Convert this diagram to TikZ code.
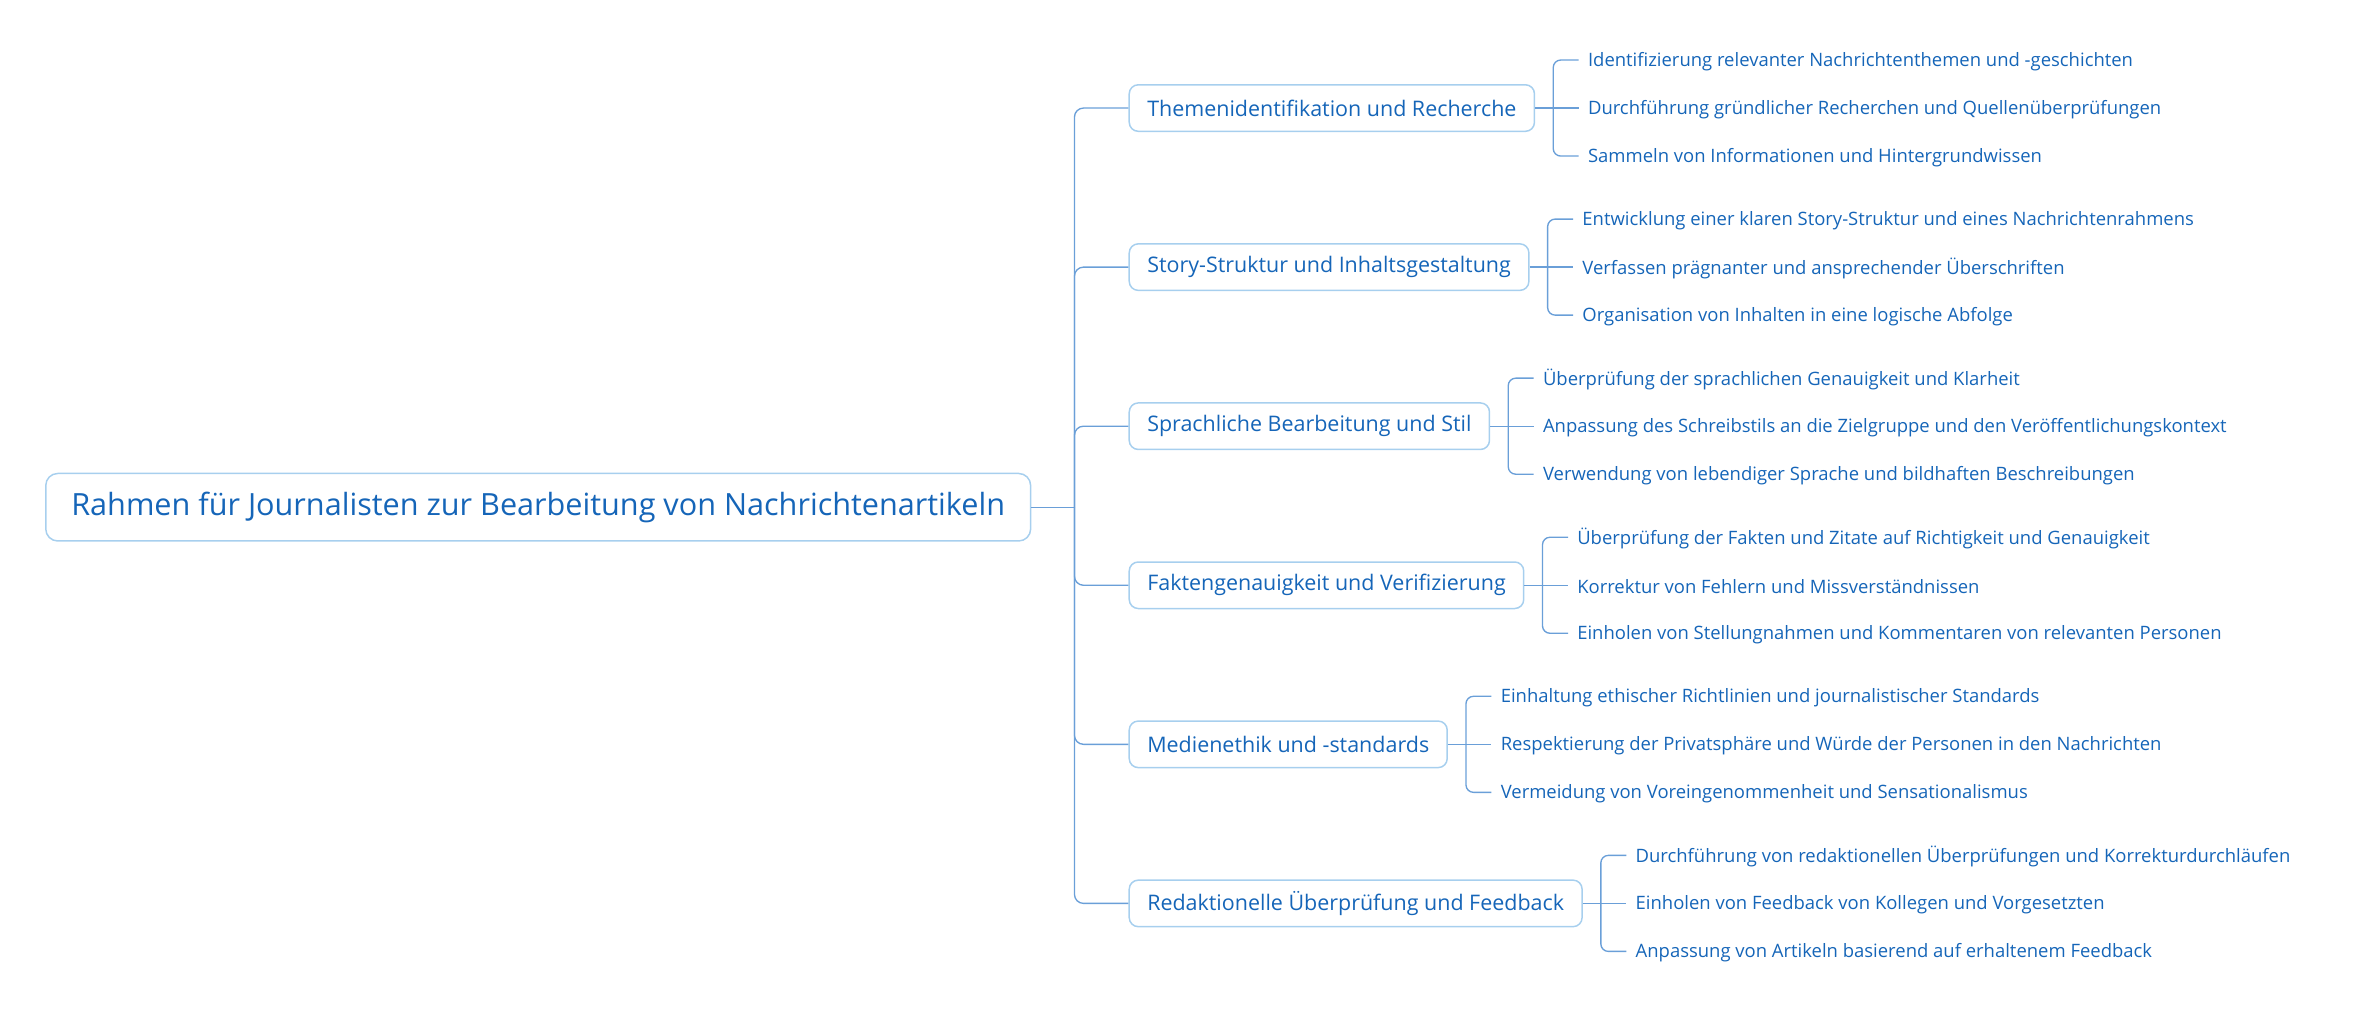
\documentclass[tikz,border=0pt]{standalone}
\usepackage{fontspec}
\usetikzlibrary{calc}
\setmainfont{Open Sans}
\definecolor{tx}{HTML}{1565B8}
\definecolor{ln}{HTML}{6A9FD8}
\definecolor{bx}{HTML}{A7CFEE}
\begin{document}
\begin{tikzpicture}[x=1pt,y=-1pt,
 root/.style={draw=bx,line width=1pt,rounded corners=8pt,text=tx,font=\fontsize{20.4}{22}\selectfont,inner xsep=17pt,inner ysep=0pt,minimum height=45pt,anchor=west},
 br/.style={draw=bx,line width=1pt,rounded corners=6pt,text=tx,font=\fontsize{14.3}{16}\selectfont,inner xsep=12pt,inner ysep=0pt,minimum height=31pt,anchor=west},
 lf/.style={text=tx,font=\fontsize{12.3}{14}\selectfont,inner sep=0pt,anchor=west},
 con/.style={draw=ln,line width=0.9pt,rounded corners=6pt}]
\useasboundingbox (0,0) rectangle (1568,686);
\node[root] (R) at (30,338) {Rahmen für Journalisten zur Bearbeitung von Nachrichtenartikeln};
\coordinate (T) at (716,338);
\draw[con] (R.east) -- (T);
\foreach \i/\y/\t/\a/\b/\c in {
1/72/Themenidentifikation und Recherche/Identifizierung relevanter Nachrichtenthemen und -geschichten/Durchführung gründlicher Recherchen und Quellenüberprüfungen/Sammeln von Informationen und Hintergrundwissen,
2/178/Story-Struktur und Inhaltsgestaltung/Entwicklung einer klaren Story-Struktur und eines Nachrichtenrahmens/Verfassen prägnanter und ansprechender Überschriften/Organisation von Inhalten in eine logische Abfolge,
3/284/Sprachliche Bearbeitung und Stil/Überprüfung der sprachlichen Genauigkeit und Klarheit/Anpassung des Schreibstils an die Zielgruppe und den Veröffentlichungskontext/Verwendung von lebendiger Sprache und bildhaften Beschreibungen,
4/390/Faktengenauigkeit und Verifizierung/Überprüfung der Fakten und Zitate auf Richtigkeit und Genauigkeit/Korrektur von Fehlern und Missverständnissen/Einholen von Stellungnahmen und Kommentaren von relevanten Personen,
5/496/Medienethik und -standards/Einhaltung ethischer Richtlinien und journalistischer Standards/Respektierung der Privatsphäre und Würde der Personen in den Nachrichten/Vermeidung von Voreingenommenheit und Sensationalismus,
6/602/Redaktionelle Überprüfung und Feedback/Durchführung von redaktionellen Überprüfungen und Korrekturdurchläufen/Einholen von Feedback von Kollegen und Vorgesetzten/Anpassung von Artikeln basierend auf erhaltenem Feedback}{
 \node[br] (B\i) at (752,\y) {\t};
 \draw[con] (T) -- (716,\y) -- (B\i.west);
 \coordinate (K\i) at ($(B\i.east)+(12,0)$);
 \node[lf] (L\i a) at ($(B\i.east)+(35,-31)$) {\a};
 \node[lf] (L\i b) at ($(B\i.east)+(35,1)$) {\b};
 \node[lf] (L\i c) at ($(B\i.east)+(35,33)$) {\c};
 \draw[con] (B\i.east) -- ($(B\i.east)+(29,0)$);
 \draw[con,rounded corners=5pt] ($(B\i.east)+(29,-32)$) -| (K\i) |- ($(B\i.east)+(29,32)$);
}
\end{tikzpicture}
\end{document}
